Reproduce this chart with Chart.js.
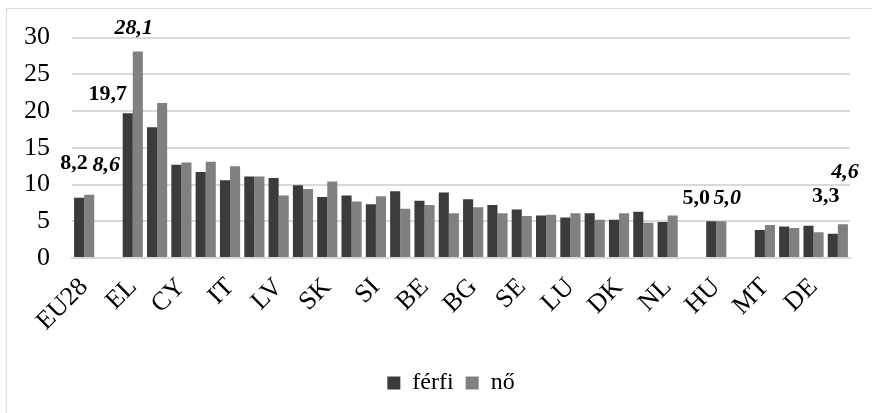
<!DOCTYPE html>
<html>
<head>
<meta charset="utf-8">
<script src="https://cdn.jsdelivr.net/npm/chart.js@4.4.1/dist/chart.umd.min.js"></script>
<style>
  body { margin: 0; background: #fff; }
  #wrap { position: relative; width: 872px; height: 413px; overflow: hidden; }
  #frame { position: absolute; left: 6px; top: 8px; width: 900px; height: 450px; border-left: 1px solid #d9d9d9; border-top: 1px solid #d9d9d9; }
  canvas { position: absolute; left: 0; top: 0; }
</style>
</head>
<body>
<div id="wrap">
  <div id="frame"></div>
  <canvas id="chart" width="872" height="413"></canvas>
</div>
<script>
// kategoriak (orszagok) - csak minden masodik nev latszik a tengelyen
const orszagok = ["EU28", "", "EL", "ES", "CY", "HR", "IT", "PT", "LV", "FR", "SK", "FI", "SI", "LT", "BE", "IE",
  "BG", "AT", "SE", "PL", "LU", "EE", "DK", "RO", "NL", "", "HU", "", "MT", "UK", "DE", "CZ"];

const ferfi = [8.2, null, 19.7, 17.8, 12.7, 11.7, 10.6, 11.1, 10.9, 9.9, 8.3, 8.5, 7.3, 9.1, 7.8, 8.9,
  8.0, 7.2, 6.6, 5.8, 5.5, 6.1, 5.2, 6.3, 4.9, null, 5.0, null, 3.8, 4.3, 4.4, 3.3];

const no = [8.6, null, 28.1, 21.1, 13.0, 13.1, 12.5, 11.1, 8.5, 9.4, 10.4, 7.7, 8.4, 6.7, 7.2, 6.1,
  6.9, 6.1, 5.7, 5.9, 6.1, 5.2, 6.1, 4.8, 5.8, null, 5.0, null, 4.5, 4.1, 3.5, 4.6];

const yTicks = [0, 5, 10, 15, 20, 25, 30];

// melyik oszlopokon van felirat
const cimkeIndexek = [0, 2, 26, 31];

// feliratok eltolasa az oszlop tetejehez kepest (dataset -> [dx, dy])
const cimkeEltolas = {
  0: { 0: [-5, -34], 2: [-20, -19], 26: [-15, -23], 31: [-7, -37] },
  1: { 0: [17, -30], 2: [-4, -23], 26: [6, -23], 31: [2, -52] },
};

const betu = "'Liberation Serif', 'Times New Roman', serif";

const adatCimkek = {
  id: "adatCimkek",
  afterLayout(chart) {
    // a jelmagyarazat kicsit jobbra van, mint az eredetin
    if (chart.legend) {
      chart.legend.left += 22;
      chart.legend.right += 22;
    }
  },
  afterDatasetsDraw(chart) {
    const ctx = chart.ctx;
    chart.data.datasets.forEach((ds, di) => {
      const meta = chart.getDatasetMeta(di);
      cimkeIndexek.forEach((i) => {
        const bar = meta.data[i];
        const v = ds.data[i];
        if (!bar || v == null) return;
        const off = cimkeEltolas[di][i];
        ctx.save();
        ctx.font = (di === 1 ? "italic " : "") + "bold 22px " + betu;
        ctx.fillStyle = "#000";
        ctx.textAlign = "center";
        ctx.textBaseline = "middle";
        ctx.fillText(v.toFixed(1).replace(".", ","), bar.x + off[0], bar.y + off[1]);
        ctx.restore();
      });
    });
  },
};

const ctx = document.getElementById("chart");

new Chart(ctx, {
  type: "bar",
  data: {
    labels: orszagok,
    datasets: [
      {
        label: "férfi",
        data: ferfi,
        backgroundColor: "#3b3b3b",
        barPercentage: 1.0,
        categoryPercentage: 0.83,
      },
      {
        label: "nő",
        data: no,
        backgroundColor: "#808080",
        barPercentage: 1.0,
        categoryPercentage: 0.83,
      },
    ],
  },
  options: {
    responsive: false,
    animation: false,
    devicePixelRatio: 1,
    layout: {
      padding: { left: 8, top: 32, right: 22, bottom: 8 },
    },
    scales: {
      x: {
        grid: { display: false },
        border: { display: true, color: "#d9d9d9", width: 2 },
        ticks: {
          autoSkip: false,
          maxRotation: 45,
          minRotation: 45,
          padding: 6,
          color: "#000",
          font: { family: betu, size: 26 },
          callback: function (value, index) {
            return index % 2 === 0 ? orszagok[index] : "";
          },
        },
        afterFit: function (scale) {
          scale.height = 101;
        },
      },
      y: {
        min: 0,
        max: 30,
        afterBuildTicks: function (scale) {
          scale.ticks = yTicks.map((v) => ({ value: v }));
        },
        grid: { color: "#d9d9d9", lineWidth: 2, drawTicks: false },
        border: { display: false },
        ticks: {
          padding: 22,
          color: "#000",
          font: { family: betu, size: 26 },
        },
        afterFit: function (scale) {
          scale.width = 64;
        },
      },
    },
    plugins: {
      legend: {
        position: "bottom",
        labels: {
          boxWidth: 13,
          boxHeight: 13,
          padding: 12,
          color: "#000",
          font: { family: betu, size: 24 },
        },
      },
      tooltip: { enabled: false },
    },
  },
  plugins: [adatCimkek],
});
</script>
</body>
</html>
